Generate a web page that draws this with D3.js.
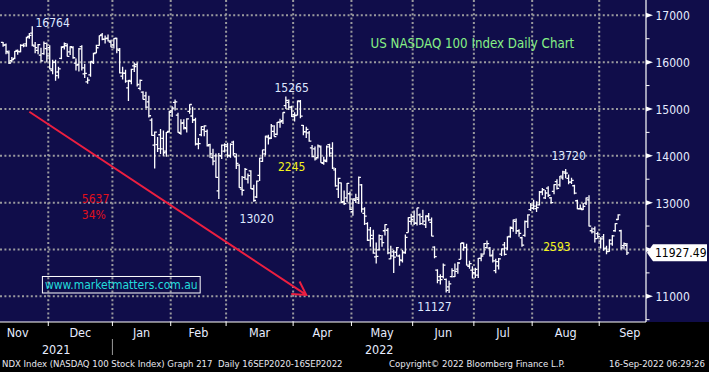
<!DOCTYPE html>
<html>
<head>
<meta charset="utf-8">
<script src="https://cdn.jsdelivr.net/npm/d3@7"></script>
<style>
  html, body { margin: 0; padding: 0; background: #000; }
  svg { display: block; }
  text { font-family: "DejaVu Sans Condensed", "DejaVu Sans", sans-serif; }
</style>
</head>
<body>
<div id="chart"></div>
<script>
// NDX daily bars, [open, high, low, close], one array per month
const nov21 = [
  [16420,16430,16330,16363],[16370,16400,16170,16227],[16200,16250,15960,15982],[16030,16110,15990,16055],
  [16080,16240,16060,16230],[16250,16270,16160,16228],[16220,16380,16210,16356],[16360,16400,16320,16349],
  [16390,16540,16330,16524],[16550,16620,16500,16573],[16620,16764,16340,16365],[16340,16430,16190,16308],
  [16250,16390,16170,16374],[16150,16310,16010,16026],[16180,16440,16160,16399],[16290,16420,15990,16135]
];
const dec21 = [
  [16310,16360,15850,15854],[15820,16050,15740,15994],[16000,16050,15600,15712],[15790,15900,15650,15855],
  [16080,16340,16060,16315],[16330,16420,16270,16393],[16350,16400,16120,16123],[16220,16340,16150,16331],
  [16310,16340,16070,16094],[15980,16080,15820,15936],[15950,16300,15800,16284],[16330,16360,15820,15879],
  [15750,15960,15660,15761],[15580,15680,15540,15617],[15730,16020,15690,16016],[15990,16200,15960,16183],
  [16200,16370,16190,16307],[16360,16570,16350,16567],[16580,16620,16470,16488],[16490,16570,16400,16503],
  [16510,16590,16440,16453],[16430,16480,16320,16320]
];
const jan22 = [
  [16370,16510,16290,16501],[16510,16520,16190,16280],[16250,16300,15760,15771],[15700,15900,15630,15765],
  [15760,15840,15560,15595],[15450,15620,15170,15612],[15590,15860,15530,15845],[15920,15990,15790,15907],
  [15950,15990,15480,15523],[15440,15630,15400,15611],[15360,15380,15200,15203],[15280,15370,15020,15041],
  [15150,15280,14820,14855],[14760,14800,14430,14438],[14230,14520,13730,14506],[14240,14400,14080,14153],
  [14450,14570,14040,14150],[14370,14540,14000,14065],[14100,14510,13980,14499],[14520,14960,14500,14930]
];
const feb22 = [
  [14960,15060,14830,15020],[15140,15200,14970,15150],[14870,14920,14490,14502],[14480,14780,14450,14699],
  [14700,14780,14560,14599],[14580,14800,14500,14788],[14950,15100,14900,15096],[14850,15050,14700,14762],
  [14770,14810,14220,14253],[14250,14380,14140,14261],[14450,14630,14420,14622],[14560,14650,14420,14639],
  [14520,14560,14200,14215],[14240,14260,13960,14041],[13960,14150,13800,13886],[14000,14050,13530,13538],
  [13250,14060,13080,14005],[14000,14240,13930,14228],[14100,14270,14070,14237]
];
const mar22 = [
  [14200,14280,13960,14006],[14000,14270,13960,14243],[14290,14320,14000,14048],[13980,14050,13720,13838],
  [13800,13820,13320,13319],[13290,13570,13150,13264],[13540,13740,13490,13711],[13500,13620,13410,13578],
  [13680,13690,13290,13301],[13290,13380,13020,13046],[13120,13470,13100,13458],[13580,13960,13460,13949],
  [13880,14130,13870,14128],[14040,14430,14010,14420],[14400,14450,14240,14365],[14380,14680,14360,14636],
  [14520,14650,14410,14411],[14460,14720,14440,14715],[14720,14790,14600,14727],[14750,14930,14680,14925],
  [15070,15265,15000,15183],[15140,15200,14980,15041],[15040,15070,14830,14838]
];
const apr22 = [
  [14880,14930,14730,14861],[14870,15180,14860,15173],[15160,15190,14800,14849],[14650,14660,14440,14516],
  [14510,14620,14380,14563],[14490,14530,14300,14314],[14170,14230,13970,13983],[14150,14200,13900,13933],
  [13960,14240,13940,14212],[14190,14220,13850,13855],[13840,13980,13810,13905],[13880,14220,13860,14192],
  [14240,14260,13980,14057],[14160,14290,13720,13738],[13700,13740,13340,13357],[13290,13530,13100,13516],
  [13420,13430,12990,12999],[13020,13260,12950,12977],[13100,13420,13010,13411],[13190,13240,12840,12855]
];
const may22 = [
  [12810,13090,12720,13078],[13050,13190,12990,13101],[13070,13560,12970,13541],[13380,13400,12790,12864],
  [12770,12900,12520,12710],[12550,12580,12180,12197],[12420,12480,12060,12301],[12230,12420,11910,11921],
  [11840,12150,11700,11854],[11990,12320,11980,12294],[12220,12310,12060,12147],[12400,12540,12300,12530],
  [12410,12460,11900,11928],[11800,12080,11790,11863],[11950,11990,11500,11835],[11940,12050,11850,12039],
  [11860,11890,11650,11776],[11760,11990,11720,11943],[11930,12320,11910,12256],[12360,12690,12360,12681],
  [12600,12760,12530,12643]
];
const jun22 = [
  [12700,12830,12520,12564],[12560,12890,12510,12890],[12740,12770,12520,12553],[12700,12850,12530,12607],
  [12530,12730,12460,12716],[12700,12780,12600,12630],[12580,12680,12280,12285],[12050,12070,11810,11846],
  [11560,11580,11280,11340],[11420,11470,11250,11357],[11420,11700,11380,11664],[11360,11380,11080,11127],
  [11200,11330,11070,11265],[11420,11600,11400,11549],[11420,11700,11410,11531],[11580,11730,11480,11711],
  [11790,12140,11790,12133],[12140,12150,11970,12043],[12040,12120,11660,11667],[11640,11760,11590,11697],
  [11560,11640,11380,11504]
];
const jul22 = [
  [11500,11610,11390,11573],[11450,11820,11390,11811],[11810,11920,11750,11860],[11900,12140,11890,12126],
  [12040,12190,12020,12125],[12030,12050,11850,11862],[11880,11990,11720,11755],[11550,11800,11490,11739],
  [11650,11820,11570,11800],[11900,12020,11860,12011],[12100,12160,11870,11893],[12030,12280,11990,12270],
  [12280,12490,12250,12469],[12450,12640,12380,12631],[12600,12660,12330,12397],[12400,12430,12270,12343],
  [12250,12270,12060,12093],[12300,12620,12270,12596],[12600,12750,12460,12740],[12850,12990,12820,12947]
];
const aug22 = [
  [12880,13060,12850,12925],[12870,13030,12800,12892],[12950,13250,12940,13226],[13230,13310,13160,13275],
  [13100,13270,13080,13206],[13310,13350,13120,13158],[13100,13120,12980,13002],[13240,13390,13180,13384],
  [13450,13500,13280,13305],[13380,13570,13340,13564],[13530,13680,13490,13656],[13630,13720,13520,13630],
  [13520,13600,13390,13440],[13440,13530,13400,13474],[13360,13380,13180,13203],[13040,13060,12860,12867],
  [12870,12960,12850,12875],[12850,12990,12840,12921],[12990,13110,12950,13102],[13060,13160,12490,12500],
  [12400,12470,12340,12375],[12440,12490,12150,12230],[12340,12380,12230,12272]
];
const sep22 = [
  [12180,12260,12020,12228],[12270,12330,11970,12013],[12030,12080,11900,11955],[11960,12220,11950,12200],
  [12120,12310,12080,12290],[12400,12560,12380,12550],[12640,12750,12630,12740],[12400,12420,12000,12034],
  [12080,12150,12000,12126],[12090,12140,11880,11927.49]
];

const holidays = ['2021-11-25', '2021-12-24', '2022-01-17', '2022-02-21', '2022-04-15',
                  '2022-05-30', '2022-06-20', '2022-07-04', '2022-09-05'];
const firstDate = '2021-11-08';
const lastPrice = 11927.49;
const yTicks = [11000, 12000, 13000, 14000, 15000, 16000, 17000];
const yMinor = [10500, 11500, 12500, 13500, 14500, 15500, 16500];
const yearLabels = ['2021', '2022'];

// text annotations: [text, date, value, colour, anchor, size]
const notes = [
  ['16764', '2021-12-02', 16750, '#dfe8ff', 'middle', 12],
  ['15265', '2022-03-31', 15362, '#dfe8ff', 'middle', 12],
  ['2245', '2022-03-31', 13675, '#f4f41c', 'middle', 12],
  ['13020', '2022-03-15', 12565, '#dfe8ff', 'middle', 12],
  ['5637', '2021-12-16', 12992, '#e0101c', 'start', 12],
  ['34%', '2021-12-16', 12650, '#e0101c', 'start', 12],
  ['11127', '2022-06-10', 10686, '#dfe8ff', 'middle', 12],
  ['13720', '2022-08-17', 13910, '#dfe8ff', 'middle', 12],
  ['2593', '2022-08-11', 11967, '#f4f41c', 'middle', 12],
  ['US NASDAQ 100 Index Daily Chart', '2022-06-30', 16302, '#86f086', 'middle', 13.2]
];
const arrowFrom = ['2021-11-19', 14940];
const arrowTo = ['2022-04-07', 11030];
const website = ['www.marketmatters.com.au', '2021-11-29', 11156];

const width = 709;
const height = 372;
const plotW = 646;
const plotH = 322;

const fmt = d3.timeFormat('%Y-%m-%d');
const holidaySet = new Set(holidays);
// every trading day from 1 Nov 2021 to 30 Sep 2022 (used for month spacing)
const calendar = d3.timeDay.range(new Date(2021, 10, 1), new Date(2022, 9, 1))
  .filter(d => d.getDay() % 6 !== 0 && !holidaySet.has(fmt(d)));
const calIndex = new Map(calendar.map((d, i) => [fmt(d), i]));
const offset = calIndex.get(firstDate);

const bars = [].concat(nov21, dec21, jan22, feb22, mar22, apr22, may22, jun22, jul22, aug22, sep22)
  .map((r, i) => ({ i: offset + i, o: r[0], h: r[1], l: r[2], c: r[3] }));

const x = d3.scaleLinear().domain([offset - 1.063, offset + 220.55]).range([0, plotW]);
const y = d3.scaleLinear().domain([10451, 17327]).range([plotH, 0]);
const dateX = s => x(calIndex.get(s));

const svg = d3.select('#chart').append('svg')
  .attr('width', width)
  .attr('height', height);

svg.append('rect').attr('width', width).attr('height', height).attr('fill', '#000');
svg.append('rect').attr('width', width).attr('height', plotH).attr('fill', '#100d4a');

// months
const months = d3.groups(calendar.map((d, i) => ({ d, i })), e => d3.timeFormat('%Y-%m')(e.d))
  .map(([key, arr]) => ({ key, date: arr[0].d, first: arr[0].i, last: arr[arr.length - 1].i }));

const grid = svg.append('g')
  .attr('stroke', '#9a9a9e')
  .attr('stroke-width', 2)
  .attr('stroke-dasharray', '2,2.4');

months.forEach(m => {
  const gx = x(m.first - 0.5);
  if (gx > 1 && gx < plotW - 1) {
    grid.append('line').attr('x1', gx).attr('x2', gx).attr('y1', 0).attr('y2', plotH);
  }
});
yTicks.forEach(v => {
  grid.append('line').attr('x1', 0).attr('x2', plotW).attr('y1', y(v)).attr('y2', y(v));
});

// OHLC bars
const barG = svg.append('g')
  .attr('stroke', '#fff')
  .attr('stroke-width', 1.3)
  .attr('fill', 'none');

barG.selectAll('path')
  .data(bars)
  .enter()
    .append('path')
    .attr('d', d => {
      const bx = x(d.i);
      return `M${bx},${y(d.h)}V${y(d.l)}M${bx - 2.2},${y(d.o)}H${bx}M${bx},${y(d.c)}H${bx + 2.2}`;
    });

// red trend arrow
const ax1 = dateX(arrowFrom[0]), ay1 = y(arrowFrom[1]);
const ax2 = dateX(arrowTo[0]), ay2 = y(arrowTo[1]);
const ang = Math.atan2(ay2 - ay1, ax2 - ax1) + Math.PI;
const headLen = 15;
const barb = a => [ax2 + headLen * Math.cos(a), ay2 + headLen * Math.sin(a)];
const b1 = barb(ang + Math.PI / 6);
const b2 = barb(ang - Math.PI / 6);
svg.append('path')
  .attr('d', `M${ax1},${ay1}L${ax2},${ay2}M${b1[0]},${b1[1]}L${ax2},${ay2}L${b2[0]},${b2[1]}`)
  .attr('stroke', '#ec1f40')
  .attr('stroke-width', 2)
  .attr('fill', 'none');

// annotations
svg.append('g').selectAll('text')
  .data(notes)
  .enter()
    .append('text')
    .attr('x', d => dateX(d[1]))
    .attr('y', d => y(d[2]))
    .attr('fill', d => d[3])
    .attr('text-anchor', d => d[4])
    .attr('font-size', d => d[5])
    .text(d => d[0]);

const webG = svg.append('g');
const webBox = webG.append('rect');
const web = webG.append('text')
  .attr('x', dateX(website[1]) + 1)
  .attr('y', y(website[2]))
  .attr('fill', '#22dcdc')
  .attr('font-size', 12)
  .text(website[0]);
const wb = web.node().getBBox();
webBox
  .attr('x', wb.x - 2.5)
  .attr('y', wb.y - 1.5)
  .attr('width', wb.width + 5)
  .attr('height', wb.height + 2.5)
  .attr('fill', 'none')
  .attr('stroke', '#fff')
  .attr('stroke-width', 1);

// right axis
const ly = y(lastPrice);
const axisG = svg.append('g').attr('fill', '#fff');
axisG.append('line')
  .attr('x1', plotW).attr('x2', plotW).attr('y1', 0).attr('y2', plotH)
  .attr('stroke', '#fff').attr('stroke-width', 1.2);
yTicks.forEach(v => {
  const ty = y(v);
  axisG.append('path').attr('d', `M${plotW},${ty - 2.5}L${plotW + 7},${ty}L${plotW},${ty + 2.5}Z`);
  // labels hidden behind the last price flag are not drawn
  if (Math.abs(ty - ly) > 12) {
    axisG.append('text')
      .attr('x', plotW + 9.5)
      .attr('y', ty + 5)
      .attr('font-size', 12)
      .attr('fill', '#e6ecff')
      .text(v);
  }
});
yMinor.forEach(v => {
  axisG.append('line')
    .attr('x1', plotW).attr('x2', plotW + 3.5).attr('y1', y(v)).attr('y2', y(v))
    .attr('stroke', '#fff');
});

// last price flag
axisG.append('path')
  .attr('d', `M${plotW + 1},${ly}L${plotW + 7},${ly - 8.5}H${width - 2}V${ly + 8.5}H${plotW + 7}Z`)
  .attr('fill', '#fff');
axisG.append('text')
  .attr('x', plotW + 9)
  .attr('y', ly + 4.5)
  .attr('font-size', 12)
  .attr('fill', '#000')
  .text(lastPrice.toFixed(2));

// bottom axis
const xAxisG = svg.append('g');
xAxisG.append('line')
  .attr('x1', 0).attr('x2', plotW).attr('y1', plotH).attr('y2', plotH)
  .attr('stroke', '#fff').attr('stroke-width', 1.2);
months.forEach(m => {
  const gx = x(m.first - 0.5);
  if (gx > 1 && gx < plotW) {
    xAxisG.append('line')
      .attr('x1', gx).attr('x2', gx).attr('y1', plotH).attr('y2', plotH + 4)
      .attr('stroke', '#fff');
  }
  xAxisG.append('text')
    .attr('x', (x(m.first - 0.5) + x(m.last + 0.5)) / 2)
    .attr('y', 337)
    .attr('text-anchor', 'middle')
    .attr('font-size', 12.5)
    .attr('fill', '#e6ecff')
    .text(d3.timeFormat('%b')(m.date));
});

// year labels, centred on the visible part of each year
const janX = x(calIndex.get('2022-01-03') - 0.5);
const yearSpans = [[0, janX], [janX, plotW]];
yearLabels.forEach((t, k) => {
  xAxisG.append('text')
    .attr('x', (yearSpans[k][0] + yearSpans[k][1]) / 2)
    .attr('y', 354)
    .attr('text-anchor', 'middle')
    .attr('font-size', 12.5)
    .attr('fill', '#e6ecff')
    .text(t);
});
xAxisG.append('line')
  .attr('x1', janX).attr('x2', janX).attr('y1', 339).attr('y2', 355)
  .attr('stroke', '#9a9a9a');

// footer
const foot = svg.append('g')
  .attr('fill', '#e8e8f0')
  .attr('font-size', 9.5);
foot.append('text').attr('x', 2).attr('y', 367)
  .style('white-space', 'pre')
  .text('NDX Index (NASDAQ 100 Stock Index) Graph 217  Daily 16SEP2020-16SEP2022');
foot.append('text').attr('x', 389).attr('y', 367)
  .text('Copyright\u00A9 2022 Bloomberg Finance L.P.');
foot.append('text').attr('x', 705).attr('y', 367).attr('text-anchor', 'end')
  .text('16-Sep-2022 06:29:26');
</script>
</body>
</html>
